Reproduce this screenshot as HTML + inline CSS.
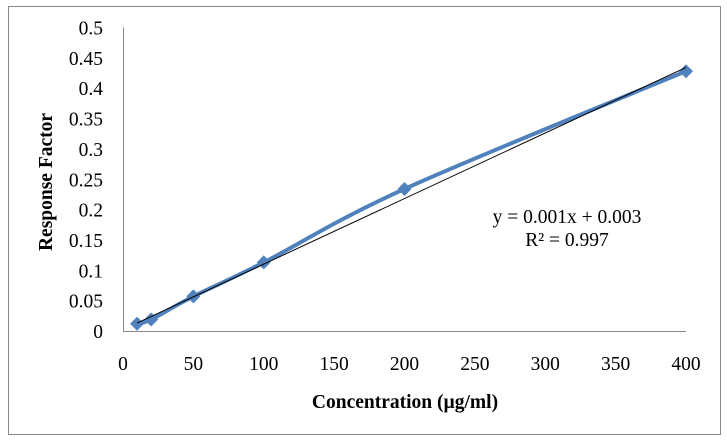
<!DOCTYPE html>
<html><head><meta charset="utf-8"><style>
body{margin:0;background:#fff;}
svg text{font-family:"Liberation Serif",serif;fill:#000;}
</style></head><body>
<svg width="727" height="440" xmlns="http://www.w3.org/2000/svg">
<rect x="8.5" y="6.5" width="712" height="428" fill="#fff" stroke="#888"/>
<g id="g"></g>
</svg>
<script>
const xValues=[10,20,50,100,200,400];
const yValues=[0.012,0.019,0.057,0.113,0.234,0.428];
const xTicks=[0,50,100,150,200,250,300,350,400];
const yTicks=[0,0.05,0.1,0.15,0.2,0.25,0.3,0.35,0.4,0.45,0.5];
const trendCoef=[0.00108,0.0022];
const X0=123,X1=686,Y0=331,Y1=27.5;
const sx=v=>X0+(v/400)*(X1-X0);
const sy=v=>Y0-(v/0.5)*(Y0-Y1);
const g=document.getElementById('g');
const NS='http://www.w3.org/2000/svg';
function mk(t,a){const e=document.createElementNS(NS,t);for(const k in a)e.setAttribute(k,a[k]);g.appendChild(e);return e;}
let e;
e=mk('path',{d:`M${X0+0.5},${Y1} V${Y0+0.5} H${X1}`,fill:'none',stroke:'#888'});


yTicks.forEach(v=>{const t=mk('text',{x:103,y:sy(v)+7,'text-anchor':'end','font-size':'19.5'});t.textContent=String(v);

});
xTicks.forEach(v=>{const t=mk('text',{x:sx(v),y:370,'text-anchor':'middle','font-size':'19.5'});t.textContent=String(v);

});
const P=xValues.map((x,i)=>[sx(x),sy(yValues[i])]);
let d=`M${P[0][0]},${P[0][1]}`;
for(let i=0;i<P.length-1;i++){const p0=P[i-1]||P[i],p1=P[i],p2=P[i+1],p3=P[i+2]||P[i+1];
d+=` C${p1[0]+(p2[0]-p0[0])/6},${p1[1]+(p2[1]-p0[1])/6} ${p2[0]-(p3[0]-p1[0])/6},${p2[1]-(p3[1]-p1[1])/6} ${p2[0]},${p2[1]}`;}
e=mk('path',{d,fill:'none',stroke:'#4f81bd','stroke-width':'4'});


P.forEach(p=>{const m=mk('path',{d:`M${p[0]},${p[1]-7} L${p[0]+7},${p[1]} L${p[0]},${p[1]+7} L${p[0]-7},${p[1]}Z`,fill:'#4f81bd'});

});
const xa=xValues[0],xb=xValues[xValues.length-1];
e=mk('line',{x1:sx(xa),y1:sy(trendCoef[0]*xa+trendCoef[1]),x2:sx(xb),y2:sy(trendCoef[0]*xb+trendCoef[1]),stroke:'#000','stroke-width':'1'});


</script>
<svg width="727" height="440" style="position:absolute;left:0;top:0" xmlns="http://www.w3.org/2000/svg">
<text x="567" y="223" text-anchor="middle" font-size="19.5">y = 0.001x + 0.003</text>
<text x="567" y="246" text-anchor="middle" font-size="19.5">R² = 0.997</text>
<text x="405" y="408" text-anchor="middle" font-size="19.5" font-weight="bold">Concentration (µg/ml)</text>
<text transform="translate(52,182) rotate(-90)" text-anchor="middle" font-size="19.5" font-weight="bold">Response Factor</text>
</svg>
</body></html>
